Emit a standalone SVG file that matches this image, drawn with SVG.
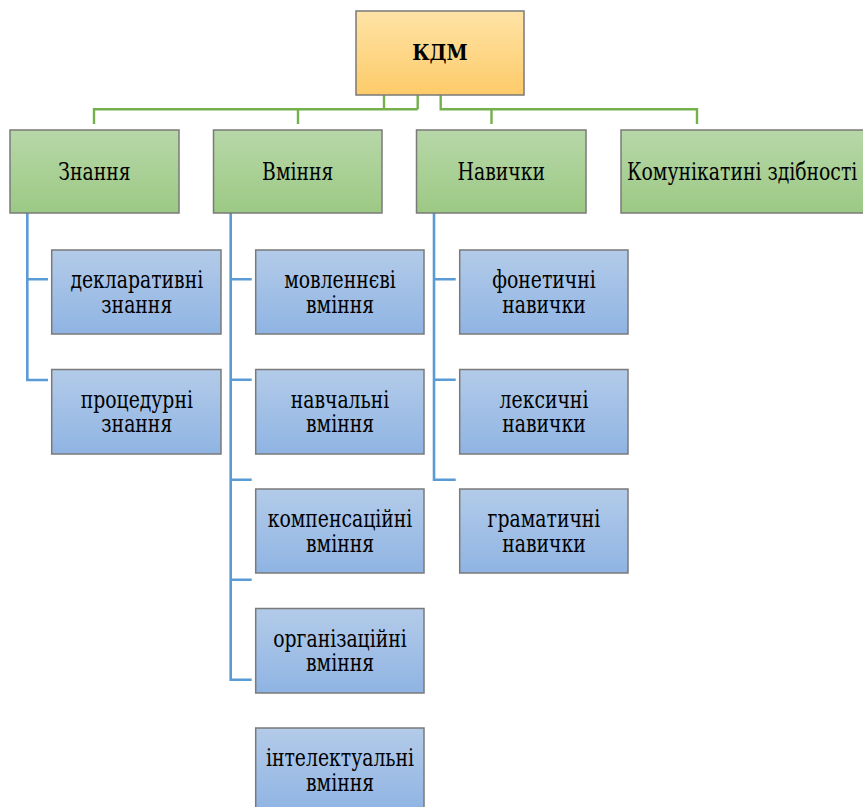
<svg xmlns="http://www.w3.org/2000/svg" width="863" height="807" viewBox="0 0 863 807">
<defs>
<linearGradient id="gOrange" x1="0" y1="0" x2="0" y2="1">
<stop offset="0" stop-color="#ffe3a6"/><stop offset="1" stop-color="#fdcb69"/>
</linearGradient>
<linearGradient id="gGreen" x1="0" y1="0" x2="0" y2="1">
<stop offset="0" stop-color="#b7d7a8"/><stop offset="1" stop-color="#9cc984"/>
</linearGradient>
<linearGradient id="gBlue" x1="0" y1="0" x2="0" y2="1">
<stop offset="0" stop-color="#b3cbe9"/><stop offset="1" stop-color="#8fb4e3"/>
</linearGradient>
</defs>
<style>
rect{stroke:#7a7a7a;stroke-width:1.5}
.o{fill:url(#gOrange)}
.g{fill:url(#gGreen)}
.b{fill:url(#gBlue)}
text{font-family:"DejaVu Serif","Liberation Serif",serif;font-size:23.5px;fill:#000;text-anchor:middle}
.bold{font-weight:bold;font-size:22px}
.gl{stroke:#74b04c;stroke-width:2.4;fill:none}
.bl{stroke:#5b9bd5;stroke-width:2.6;fill:none}
</style>
<rect width="863" height="807" fill="#fff" style="stroke:none"/>
<g id="connectors">
<path class="gl" d="M384 95V109.3M417.7 95V109.3M94 124V109.3H417.7M298 109.3V124M440.7 95V109.3H697V124M491.5 109.3V124"/>
<path class="bl" d="M27.3 213V380H48M27.3 279.3H48"/>
<path class="bl" d="M230.7 213V679.7H251.7M230.7 279.3H251.7M230.7 379.7H251.7M230.7 479.7H251.7M230.7 579.7H251.7"/>
<path class="bl" d="M434 213V479.7H455.7M434 279.3H455.7M434 379.7H455.7"/>
</g>
<g id="kdm"><rect class="o" x="356" y="11" width="168" height="84"/><text class="bold" transform="translate(440,60) scale(0.87,1)">КДМ</text></g>
<g id="znannia"><rect class="g" x="10" y="130" width="169" height="83"/><text transform="translate(94.5,180) scale(0.8,1)">Знання</text></g>
<g id="vminnia"><rect class="g" x="213.5" y="130" width="168.5" height="83"/><text transform="translate(297.75,180) scale(0.8,1)">Вміння</text></g>
<g id="navychky"><rect class="g" x="416.5" y="130" width="169.5" height="83"/><text transform="translate(501.25,180) scale(0.8,1)">Навички</text></g>
<g id="komunikatyvni"><rect class="g" x="621" y="130" width="260" height="83"/><text transform="translate(627,180) scale(0.8,1)" style="text-anchor:start">Комунікатині здібності</text></g>
<g id="deklaratyvni"><rect class="b" x="51.7" y="250" width="169.3" height="84"/><text transform="translate(136.8,288) scale(0.8,1)"><tspan x="0" y="0">декларативні</tspan><tspan x="0" y="25">знання</tspan></text></g>
<g id="protseduryni"><rect class="b" x="51.7" y="369.5" width="169.3" height="84.5"/><text transform="translate(136.8,407.5) scale(0.8,1)"><tspan x="0" y="0">процедурні</tspan><tspan x="0" y="25">знання</tspan></text></g>
<g id="movlennievi"><rect class="b" x="255.7" y="250" width="168.3" height="84"/><text transform="translate(340,288) scale(0.8,1)"><tspan x="0" y="0">мовленнєві</tspan><tspan x="0" y="25">вміння</tspan></text></g>
<g id="navchalni"><rect class="b" x="255.7" y="369.5" width="168.3" height="84.5"/><text transform="translate(340,407.5) scale(0.8,1)"><tspan x="0" y="0">навчальні</tspan><tspan x="0" y="25">вміння</tspan></text></g>
<g id="kompensatsiini"><rect class="b" x="255.7" y="489" width="168.3" height="84"/><text transform="translate(340,527) scale(0.8,1)"><tspan x="0" y="0">компенсаційні</tspan><tspan x="0" y="25">вміння</tspan></text></g>
<g id="orhanizatsiini"><rect class="b" x="255.7" y="608.5" width="168.3" height="84.5"/><text transform="translate(340,646.5) scale(0.8,1)"><tspan x="0" y="0">організаційні</tspan><tspan x="0" y="25">вміння</tspan></text></g>
<g id="intelektualni"><rect class="b" x="255.7" y="728" width="168.3" height="84"/><text transform="translate(340,766) scale(0.8,1)"><tspan x="0" y="0">інтелектуальні</tspan><tspan x="0" y="25">вміння</tspan></text></g>
<g id="fonetychni"><rect class="b" x="459.7" y="250" width="168.3" height="84"/><text transform="translate(544,288) scale(0.8,1)"><tspan x="0" y="0">фонетичні</tspan><tspan x="0" y="25">навички</tspan></text></g>
<g id="leksychni"><rect class="b" x="459.7" y="369.5" width="168.3" height="84.5"/><text transform="translate(544,407.5) scale(0.8,1)"><tspan x="0" y="0">лексичні</tspan><tspan x="0" y="25">навички</tspan></text></g>
<g id="hramatychni"><rect class="b" x="459.7" y="489" width="168.3" height="84"/><text transform="translate(544,527) scale(0.8,1)"><tspan x="0" y="0">граматичні</tspan><tspan x="0" y="25">навички</tspan></text></g>
</svg>
